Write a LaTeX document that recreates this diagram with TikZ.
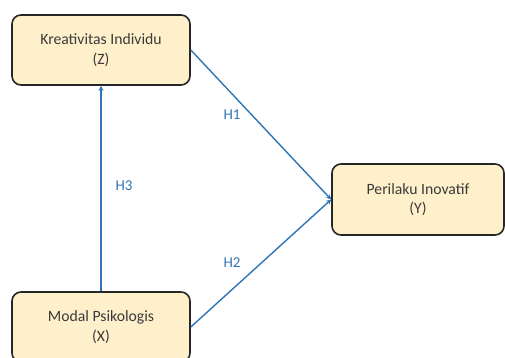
\documentclass[tikz,border=0pt]{standalone}
\usepackage{fontspec}
\setmainfont{Carlito}
\usetikzlibrary{arrows.meta}
\definecolor{boxfill}{HTML}{FFF0CC}
\definecolor{lineblue}{HTML}{2E75B6}
\definecolor{txt}{HTML}{3A3A3A}
\begin{document}
\begin{tikzpicture}[x=1pt,y=-1pt,
  varbox/.style={draw=black!85,line width=1.6pt,fill=boxfill,rounded corners=9pt,
    minimum width=178pt,minimum height=70pt,align=center,text=txt,font=\fontsize{15.7}{19.5}\selectfont},
  link/.style={draw=lineblue,line width=1.4pt,-{Stealth[length=5pt,width=5pt]}},
  hlab/.style={text=lineblue,font=\fontsize{15}{17}\selectfont}]
\useasboundingbox (0,0) rectangle (505,358);
\node[varbox] (Z) at (101,50) {Kreativitas Individu\\(Z)};
\node[varbox] (X) at (101,327) {Modal Psikologis\\(X)};
\node[varbox,minimum width=172pt,minimum height=71pt] (Y) at (418,199.5) {Perilaku Inovatif\\(Y)};
\draw[link] (Z.east) -- (Y.west);
\draw[link] (X.east) -- (Y.west);
\draw[link] (X.north) -- (Z.south);
\node[hlab] (h1) at (232,115) {H1};
\node[hlab] (h2) at (232,263) {H2};
\node[hlab] (h3) at (124,186) {H3};
\end{tikzpicture}
\end{document}
